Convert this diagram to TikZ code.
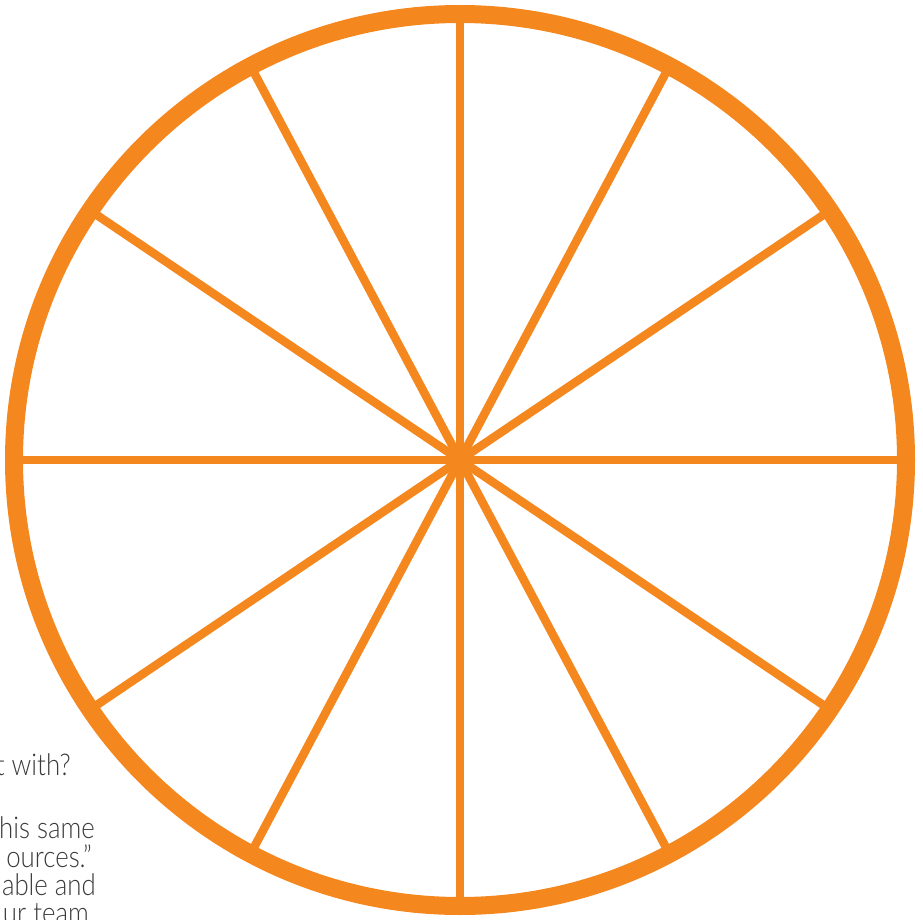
\documentclass[tikz,border=0pt]{standalone}
\usepackage{fontspec}
\setmainfont{Lato}[UprightFont={* Light},FakeStretch=0.86]
\definecolor{wheelorange}{HTML}{F5871F}
\definecolor{bodytext}{HTML}{3A3A3A}
\begin{document}
\begin{tikzpicture}[x=1pt,y=-1pt,
    rim/.style={draw=wheelorange,line width=18pt},
    spoke/.style={draw=wheelorange,line width=8.5pt},
    textline/.style={anchor=base east,inner sep=0pt,text=bodytext,font=\fontsize{30}{30}\selectfont}]
    \useasboundingbox (0,0) rectangle (923,920);
    \coordinate (hub) at (460,460);
    % spokes of the wheel
    \foreach \a in {0,34,62,90,118,146,180,214,242,270,298,326} {
      \path (hub) ++(\a:441) coordinate (end\a);
      \draw[spoke] (hub) -- (end\a);
    }
    \draw[rim] (hub) circle[radius=446];
    % clipped lines of text at the left
    \foreach \i/\x/\y/\s in {1/71/775/{t with?}, 2/95/838/{his same}, 3/92/867/{ources.”}, 4/96/895/{able and}, 5/89/923/{ur team}} {
      \node[textline] (line\i) at (\x,\y) {\s};
    }
\end{tikzpicture}
\end{document}
